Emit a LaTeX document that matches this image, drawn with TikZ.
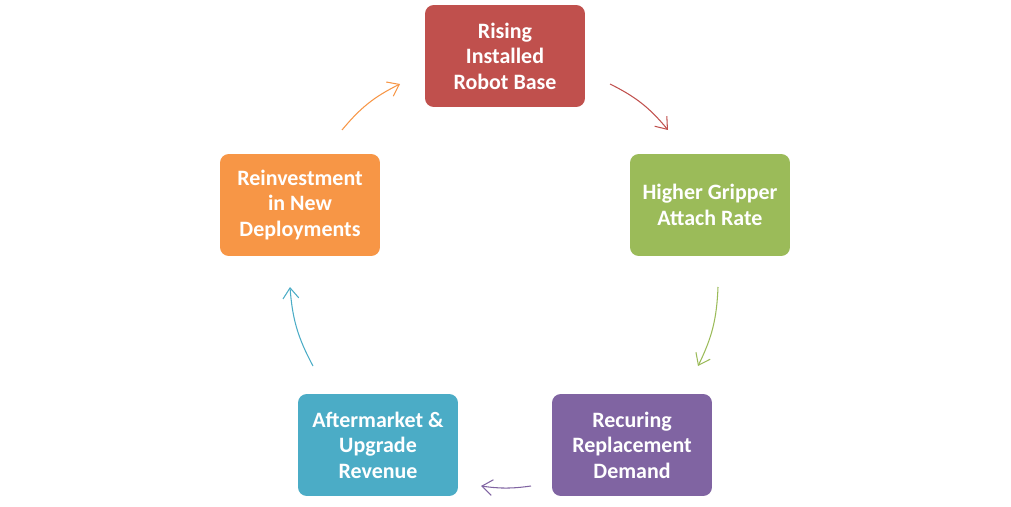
\documentclass[tikz,border=0pt]{standalone}
\usepackage{fontspec}
\setmainfont{Carlito}
\usetikzlibrary{arrows.meta}
\definecolor{cred}{HTML}{C0504D}
\definecolor{cgreen}{HTML}{9BBB59}
\definecolor{cpurple}{HTML}{8064A2}
\definecolor{cblue}{HTML}{4BACC6}
\definecolor{corange}{HTML}{F79646}
\begin{document}
\begin{tikzpicture}[x=0.02cm, y=-0.02cm,
		block/.style={rounded corners=5pt, minimum width=3.2cm, minimum height=2.04cm,
			align=center, text=white, font=\bfseries\fontsize{12.5}{14.5}\selectfont},
		link/.style={semithick, -{Straight Barb[length=6pt, width=9pt]}},
	]
		\useasboundingbox (0,0) rectangle (1011,507);

		\node[block, fill=cred] (rib) at (505,56) {Rising\\Installed\\Robot Base};
		\node[block, fill=cgreen] (gar) at (710,205) {Higher Gripper\\Attach Rate};
		\node[block, fill=cpurple] (rrd) at (632,445) {Recuring\\Replacement\\Demand};
		\node[block, fill=cblue] (aur) at (378,445) {Aftermarket \&\\Upgrade\\Revenue};
		\node[block, fill=corange] (rnd) at (300,205) {Reinvestment\\in New\\Deployments};

		\coordinate (r1) at (610,84);  \coordinate (r2) at (668,130);
		\coordinate (g1) at (718,287); \coordinate (g2) at (698,366);
		\coordinate (p1) at (531,486); \coordinate (p2) at (481,486);
		\coordinate (b1) at (313,366); \coordinate (b2) at (290,287);
		\coordinate (o1) at (342,130); \coordinate (o2) at (400,84);

		\draw[link, cred] (r1) to[bend left=12] (r2);
		\draw[link, cgreen] (g1) to[bend left=12] (g2);
		\draw[link, cpurple] (p1) to[bend left=8] (p2);
		\draw[link, cblue] (b1) to[bend left=12] (b2);
		\draw[link, corange] (o1) to[bend left=12] (o2);
	\end{tikzpicture}
\end{document}
